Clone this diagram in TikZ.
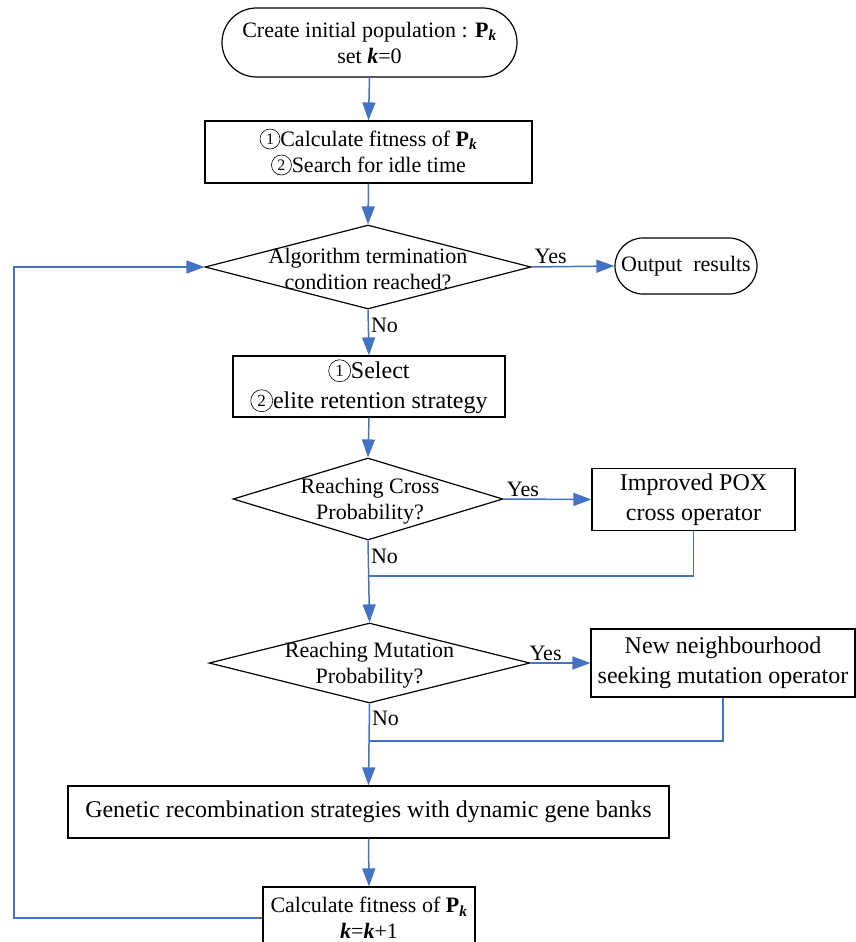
\documentclass[tikz,border=0pt]{standalone}
\usepackage{fontspec}
\setmainfont{Liberation Serif}
\usetikzlibrary{arrows.meta,shapes.geometric}
\definecolor{lnblue}{HTML}{4472C4}
\newcommand{\Pk}{\textbf{P}\textsubscript{\textbf{\textit{k}}}}
\newcommand{\kk}{\textbf{\textit{k}}}
% circled digit: #1 digit, #2 diameter, #3 digit font size
\newcommand{\cnum}[3]{\tikz[baseline={([yshift=-2pt]cc.base)}]\node[draw=black, circle, line width=0.6pt, inner sep=0pt, minimum size=#2, font=\fontsize{#3}{#3}\selectfont] (cc) {#1};}
\tikzset{
  base/.style={draw=black, line width=1.2pt, align=center, inner sep=0pt},
  proc/.style={base, rectangle},
  term/.style={base, rectangle},
  dia/.style={base, diamond, aspect=4},
  txt/.style={align=center, inner sep=0pt},
  small/.style={font=\fontsize{22}{26}\selectfont},
  big/.style={font=\fontsize{24}{30}\selectfont},
  lbl/.style={font=\fontsize{22}{26}\selectfont, inner sep=2pt},
  ln/.style={draw=lnblue, line width=1.5pt},
  arr/.style={ln, -{Triangle[length=18pt,width=13pt]}},
}
\begin{document}
\begin{tikzpicture}[x=1pt,y=-1pt]
\useasboundingbox (0,0) rectangle (856,942);
% nodes
\node[term, small, minimum width=295, minimum height=69, rounded corners=34.5] (t0) at (369.5,42.5)
  {Create initial population : \Pk\\set \kk=0};
\node[proc, small, minimum width=327, minimum height=62] (b1) at (368.5,152)
  {\cnum{1}{20pt}{16}Calculate fitness of \Pk\\\cnum{2}{20pt}{16}Search for idle time};
\node[dia, minimum width=326, minimum height=84] (d1) at (368,267) {};
\node[txt, small] (d1t) at (368,269) {Algorithm termination\\condition reached?};
\node[term, small, minimum width=142, minimum height=56, rounded corners=28] (out) at (686,266) {Output\ \ results};
\node[proc, big, minimum width=272, minimum height=61] (b2) at (369,386.5)
  {\cnum{1}{22pt}{17}Select\\\cnum{2}{22pt}{17}elite retention strategy};
\node[dia, minimum width=270, minimum height=82] (d2) at (368,499) {};
\node[txt, small] (d2t) at (370,501) {Reaching Cross\\Probability?};
\node[proc, big, minimum width=203, minimum height=62] (pox) at (693.5,499.5)
  {Improved POX\\cross operator};
\node[dia, minimum width=321, minimum height=80] (d3) at (369.5,663) {};
\node[txt, small] (d3t) at (369.5,665) {Reaching Mutation\\Probability?};
\node[proc, big, minimum width=264, minimum height=68] (mut) at (723,663)
  {New neighbourhood\\seeking mutation operator};
\node[proc, big, minimum width=601, minimum height=52] (gr) at (368.5,812)
  {Genetic recombination strategies with dynamic gene banks};
\node[proc, small, minimum width=212, minimum height=62] (last) at (369,918)
  {Calculate fitness of \Pk\\\kk=\kk+1};
% junctions
\coordinate (j1) at (369,576);
\coordinate (j2) at (369,741);
\coordinate (fb) at (14,267);
% connectors
\draw[arr] (t0.south) -- (b1.north);
\draw[arr] (b1.south) -- (d1.north);
\draw[arr] (d1.east) -- node[lbl, above, pos=0.23] (y1) {Yes} (out.west);
\draw[arr] (d1.south) -- node[lbl, right, pos=0.35] (n1) {No} (b2.north);
\draw[arr] (b2.south) -- (d2.north);
\draw[arr] (d2.east) -- node[lbl, above, pos=0.22] (y2) {Yes} (pox.west);
\draw[ln] (pox.south) |- (j1);
\draw[arr] (d2.south) -- node[lbl, right, pos=0.19] (n2) {No} (d3.north);
\draw[arr] (d3.east) -- node[lbl, above, pos=0.25] (y3) {Yes} (mut.west);
\draw[ln] (mut.south) |- (j2);
\draw[arr] (d3.south) -- node[lbl, right, pos=0.18] (n3) {No} (gr.north);
\draw[arr] (gr.south) -- (last.north);
\draw[arr] (last.west) -| (fb) -- (d1.west);
\end{tikzpicture}
\end{document}
